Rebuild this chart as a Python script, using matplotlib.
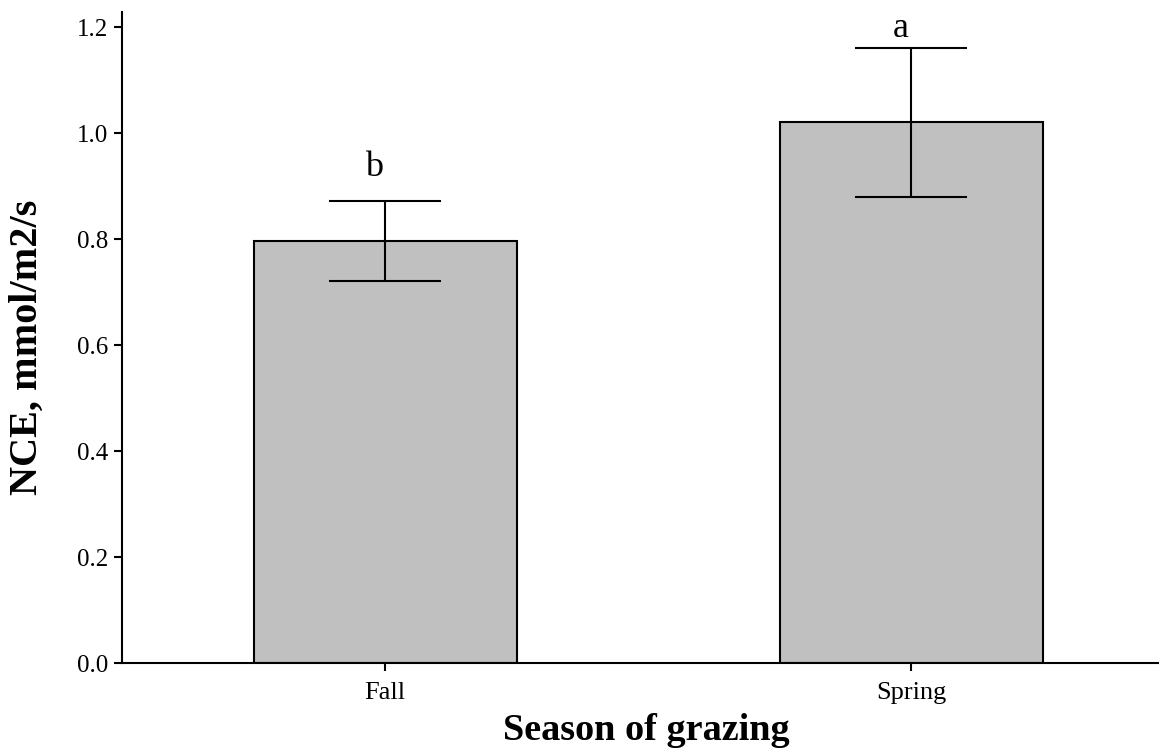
import matplotlib
matplotlib.use("Agg")
import matplotlib.pyplot as plt

categories = ["Fall", "Spring"]
means = [0.796, 1.020]
errors = [0.076, 0.140]
letters = ["b", "a"]
letter_y = [0.935, 1.198]
yticks = [0.0, 0.2, 0.4, 0.6, 0.8, 1.0, 1.2]

plt.rcParams['font.family'] = ['Liberation Serif', 'DejaVu Serif']

fig = plt.figure(figsize=(11.59, 7.52), dpi=100)
ax = fig.add_axes([122/1159, 1-663/752, 1-122/1159, (663-12)/752])

x = list(range(len(categories)))
ax.bar(x, means, width=0.5, color="#c0c0c0", edgecolor="black", linewidth=1.5, zorder=2)
ax.errorbar(x, means, yerr=errors, fmt="none", ecolor="black", elinewidth=1.5,
            capsize=40, capthick=1.5, zorder=3)
for xi, lab, ly in zip(x, letters, letter_y):
    ax.text(xi - 0.02, ly, lab, ha="center", va="center", fontsize=26)

ax.set_xlim(-0.5, (1159-385)/526)
ax.set_ylim(0, (663-12)/530)
ax.set_yticks(yticks)
ax.set_yticklabels([f"{v:.1f}" for v in yticks])
ax.set_xticks(x)
ax.set_xticklabels(categories)
ax.tick_params(axis="both", direction="out", length=6, width=1.5)
ax.tick_params(axis="y", labelsize=18, pad=4)
ax.tick_params(axis="x", labelsize=19, pad=8)
for s in ["top", "right"]:
    ax.spines[s].set_visible(False)
for s in ["left", "bottom"]:
    ax.spines[s].set_linewidth(1.5)

ax.set_ylabel("NCE, mmol/m2/s", fontsize=29, fontweight="bold")
ax.yaxis.set_label_coords(-(122-27)/1037, (663-347)/651)
ax.yaxis.label.set_va("center")
ax.set_xlabel("Season of grazing", fontsize=27.5, fontweight="bold")
ax.xaxis.set_label_coords((646-122)/1037, -(730-663)/651)
ax.xaxis.label.set_va("center")

fig.savefig("out.png", dpi=100)
